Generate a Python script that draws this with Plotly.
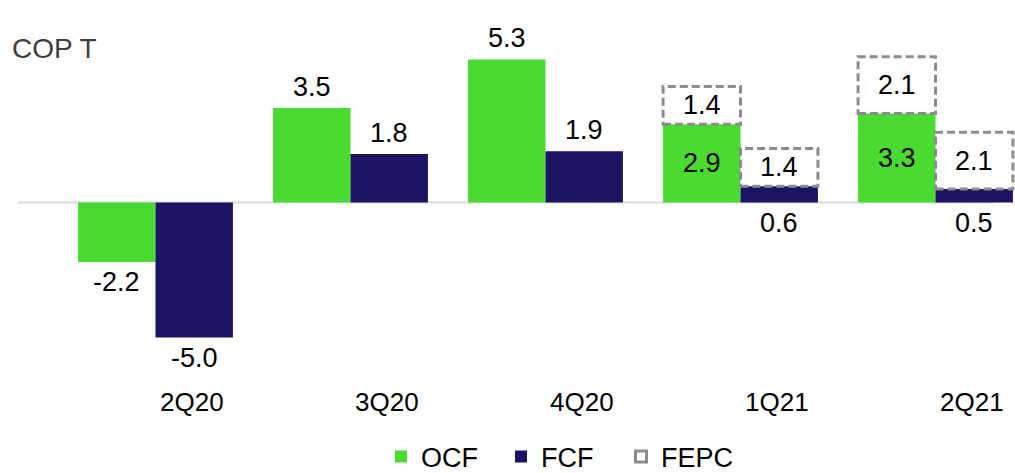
import plotly.graph_objects as go

# Quarterly cash-flow figures (COP trillions)
quarters = ["2Q20", "3Q20", "4Q20", "1Q21", "2Q21"]
ocf = [-2.2, 3.5, 5.3, 2.9, 3.3]
fcf = [-5.0, 1.8, 1.9, 0.6, 0.5]
# FEPC adjustment shown on top of OCF/FCF (None where not reported)
fepc = [None, None, None, 1.4, 2.1]

GREEN = "#4ADB33"
NAVY = "#1B1464"
GREY = "#8C8C8C"
FONT = "Liberation Sans, Arial, sans-serif"
LABEL_SIZE = 27

W, H = 1015, 473
BAR_W = 0.397
OFF = BAR_W / 2

x_idx = list(range(len(quarters)))
x_ocf = [i - OFF for i in x_idx]
x_fcf = [i + OFF for i in x_idx]

fig = go.Figure()

fig.add_trace(go.Bar(
    x=x_ocf, y=ocf, width=BAR_W, name="OCF",
    marker=dict(color=GREEN, line=dict(width=0)),
    hoverinfo="skip",
))
fig.add_trace(go.Bar(
    x=x_fcf, y=fcf, width=BAR_W, name="FCF",
    marker=dict(color=NAVY, line=dict(width=0)),
    hoverinfo="skip",
))
# legend entry for the dashed FEPC boxes
fig.add_trace(go.Scatter(
    x=[None], y=[None], mode="markers", name="FEPC",
    marker=dict(symbol="square-open", size=11, color=GREY,
                line=dict(width=3, color=GREY)),
))

shapes = []
annotations = []

# zero baseline
shapes.append(dict(type="line", xref="x", yref="y",
                   x0=-0.705, x1=4.295, y0=0, y1=0,
                   line=dict(color="#D9D9D9", width=2), layer="below"))


def label(x, y, text, yshift=0):
    annotations.append(dict(
        x=x, y=y, xref="x", yref="y", text=text, showarrow=False,
        xanchor="center", yanchor="middle", yshift=yshift,
        font=dict(family=FONT, size=LABEL_SIZE, color="#000000"),
    ))


for i in x_idx:
    f = fepc[i]
    for xc, v in ((x_ocf[i], ocf[i]), (x_fcf[i], fcf[i])):
        txt = f"{v:.1f}"
        if f is not None:
            # dashed FEPC box stacked on the bar
            shapes.append(dict(
                type="rect", xref="x", yref="y",
                x0=xc - OFF, x1=xc + OFF, y0=v, y1=v + f,
                line=dict(color=GREY, width=3, dash="8px,4px"),
                fillcolor="rgba(255,255,255,0)", layer="above",
            ))
            label(xc, v + f / 2, f"{f:.1f}")
            if xc < i:
                label(xc, v / 2, txt)
            else:
                label(xc, 0, txt, yshift=-20)
        elif v >= 0:
            label(xc, v, txt, yshift=21)
        else:
            label(xc, v, txt, yshift=-20)

# category labels, set right of each group centre
for i, q in enumerate(quarters):
    annotations.append(dict(
        x=i + 0.185, y=1 - 402 / H, xref="x", yref="paper", text=q,
        showarrow=False, xanchor="center", yanchor="middle",
        font=dict(family=FONT, size=26, color="#000000"),
    ))

# unit caption
annotations.append(dict(
    x=10 / W, y=1 - 48 / H, xref="paper", yref="paper", text="COP T",
    showarrow=False, xanchor="left", yanchor="middle",
    font=dict(family=FONT, size=28, color="#404040"),
))

PX_X0, PITCH = 155.5, 195.0
ZERO_PX, PX_PER_UNIT = 202.5, 27.0

fig.update_layout(
    width=W, height=H,
    margin=dict(l=0, r=0, t=0, b=0, autoexpand=False),
    paper_bgcolor="white", plot_bgcolor="white",
    barmode="overlay",
    showlegend=True,
    legend=dict(
        orientation="h", x=381 / W, xanchor="left",
        y=1 - 457 / H, yanchor="middle",
        entrywidth=75, entrywidthmode="pixels",
        font=dict(family=FONT, size=27, color="#000000"),
        bgcolor="rgba(0,0,0,0)", itemclick=False, itemdoubleclick=False,
        traceorder="normal",
    ),
    xaxis=dict(range=[-PX_X0 / PITCH, (W - PX_X0) / PITCH],
               visible=False, fixedrange=True),
    yaxis=dict(range=[(ZERO_PX - H) / PX_PER_UNIT, ZERO_PX / PX_PER_UNIT],
               visible=False, fixedrange=True),
    shapes=shapes,
    annotations=annotations,
    font=dict(family=FONT),
)

fig.write_html("out.html", config={"displayModeBar": False})
